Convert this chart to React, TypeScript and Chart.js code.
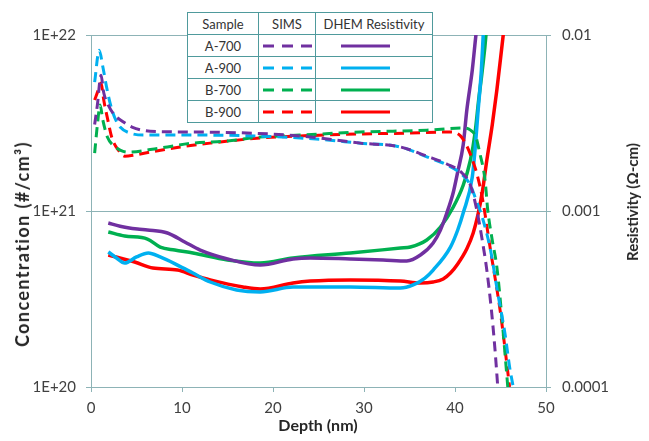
import React, { useEffect, useRef } from "react";
import { Chart, registerables } from "chart.js";

Chart.register(...registerables);

// ---------- data ----------
const samples = ["A-700", "A-900", "B-700", "B-900"];
const colors = ["#7030A0", "#00B0F0", "#00B050", "#FF0000"];

const concTicks = [1e20, 1e21, 1e22];
const concTickLabels = ["1E+20", "1E+21", "1E+22"];
const resTicks = [1e-4, 1e-3, 1e-2];
const resTickLabels = ["0.0001", "0.001", "0.01"];

// SIMS concentration (#/cm3) vs depth (nm)
const simsA700Depth = [0.4, 0.7, 1.1, 1.4, 1.9, 2.6, 3.4, 4.5, 6.5, 12, 23, 29.6, 34, 36.9, 39.1, 40.8, 41.7, 42.4, 43, 43.5, 44, 44.4, 44.7];
const simsA700 = [3.1e21, 4.0e21, 5.9e21, 4.7e21, 4.0e21, 3.5e21, 3.25e21, 3.0e21, 2.84e21, 2.81e21, 2.67e21, 2.43e21, 2.31e21, 2.05e21, 1.85e21, 1.64e21, 1.4e21, 1.01e21, 6.8e20, 4.6e20, 2.74e20, 1.62e20, 1.0e20];

const simsA900Depth = [0.4, 0.9, 1.3, 1.7, 2.1, 2.6, 3.2, 4.3, 5.9, 12, 23, 29.6, 34, 36.9, 39.1, 40.6, 41.7, 42.2, 43, 43.9, 44.7, 45.5, 46, 46.4];
const simsA900 = [5.4e21, 8.2e21, 6.6e21, 5.1e21, 4.1e21, 3.4e21, 3.0e21, 2.77e21, 2.7e21, 2.7e21, 2.6e21, 2.43e21, 2.31e21, 2.03e21, 1.83e21, 1.64e21, 1.4e21, 1.2e21, 9.2e20, 6.0e20, 3.4e20, 2.0e20, 1.3e20, 1.0e20];

const simsB700Depth = [0.4, 0.7, 1.0, 1.3, 1.8, 2.4, 3.2, 4.0, 7.6, 11.2, 15, 18.6, 23, 29.6, 36.9, 40.8, 41.7, 42.3, 42.7, 43.3, 43.6, 44.1, 44.6, 45.3, 45.8];
const simsB700 = [2.13e21, 3.08e21, 4.0e21, 3.29e21, 2.63e21, 2.37e21, 2.22e21, 2.16e21, 2.28e21, 2.43e21, 2.5e21, 2.63e21, 2.7e21, 2.81e21, 2.88e21, 2.96e21, 2.88e21, 2.63e21, 2.16e21, 1.5e21, 1.01e21, 6.8e20, 4.8e20, 2.03e20, 1.0e20];

const simsB900Depth = [0.4, 0.8, 1.1, 1.4, 1.8, 2.3, 3.0, 3.7, 4.8, 6.5, 9.8, 13.1, 18.6, 23, 29.6, 35, 39.5, 40.6, 41.3, 42, 42.5, 43, 43.9, 45, 46];
const simsB900 = [4.27e21, 4.87e21, 5.34e21, 4.27e21, 3.38e21, 2.6e21, 2.22e21, 2.05e21, 2.08e21, 2.16e21, 2.31e21, 2.43e21, 2.6e21, 2.67e21, 2.74e21, 2.77e21, 2.81e21, 2.67e21, 2.34e21, 1.9e21, 1.56e21, 1.19e21, 6.0e20, 2.63e20, 1.0e20];

// DHEM resistivity (ohm-cm) vs depth (nm)
const resA700Depth = [1.9, 3.2, 5.1, 6.2, 8.4, 10.3, 12, 15, 18.6, 22.2, 24.1, 28.5, 32.1, 34.7, 36.2, 37.6, 38.4, 39.1, 39.8, 40.3, 40.9, 41.3, 41.9, 42.3, 42.5];
const resA700 = [8.55e-4, 8.2e-4, 7.9e-4, 7.8e-4, 7.5e-4, 6.67e-4, 6.0e-4, 5.34e-4, 4.93e-4, 5.34e-4, 5.41e-4, 5.34e-4, 5.27e-4, 5.2e-4, 5.62e-4, 6.58e-4, 7.8e-4, 9.74e-4, 1.27e-3, 1.67e-3, 2.37e-3, 3.75e-3, 6.33e-3, 1.0e-2, 1.22e-2];

const resA900Depth = [1.9, 2.8, 3.7, 5.0, 6.3, 7.6, 9.5, 11.2, 13.1, 16, 18.6, 22.2, 28.5, 34, 35.4, 36.7, 37.6, 39.5, 40.3, 40.9, 41.9, 42.2, 42.5, 42.9, 43.1, 43.2];
const resA900 = [5.85e-4, 5.41e-4, 5.06e-4, 5.48e-4, 5.77e-4, 5.48e-4, 4.93e-4, 4.44e-4, 3.95e-4, 3.56e-4, 3.47e-4, 3.7e-4, 3.7e-4, 3.65e-4, 3.8e-4, 4.16e-4, 4.62e-4, 6.24e-4, 7.8e-4, 9.74e-4, 1.56e-3, 2.22e-3, 3.51e-3, 6.33e-3, 1.0e-2, 1.22e-2];

const resB700Depth = [1.9, 3.7, 6.2, 7.6, 9.2, 11.2, 15, 18.6, 22.2, 28.5, 34, 35.1, 36.9, 38.4, 39.8, 40.9, 41.7, 42.2, 42.6, 43, 43.4, 43.5];
const resB700 = [7.6e-4, 7.21e-4, 6.93e-4, 6.24e-4, 6.0e-4, 5.77e-4, 5.27e-4, 5.06e-4, 5.41e-4, 5.77e-4, 6.16e-4, 6.24e-4, 6.84e-4, 8.11e-4, 1.05e-3, 1.4e-3, 1.95e-3, 2.77e-3, 4.27e-3, 6.33e-3, 1.0e-2, 1.22e-2];

const resB900Depth = [1.9, 4.8, 6.8, 9.5, 11.2, 13.1, 16.7, 18.6, 22.2, 24.1, 28.5, 34, 36.2, 37.6, 38.7, 39.5, 40.3, 41.3, 42.0, 42.5, 43, 43.5, 44.1, 44.6, 45.3, 45.5];
const resB900 = [5.62e-4, 5.13e-4, 4.74e-4, 4.62e-4, 4.33e-4, 4.06e-4, 3.7e-4, 3.6e-4, 3.9e-4, 4.0e-4, 4.06e-4, 4.0e-4, 3.9e-4, 3.95e-4, 4.11e-4, 4.44e-4, 5.0e-4, 6.1e-4, 7.5e-4, 9.4e-4, 1.28e-3, 1.95e-3, 3.1e-3, 4.87e-3, 1.0e-2, 1.22e-2];

const simsDepths = [simsA700Depth, simsA900Depth, simsB700Depth, simsB900Depth];
const simsValues = [simsA700, simsA900, simsB700, simsB900];
const resDepths = [resA700Depth, resA900Depth, resB700Depth, resB900Depth];
const resValues = [resA700, resA900, resB700, resB900];

// ---------- styles ----------
const AXIS = "#8DB3B6";
const TABLE_BORDER = "#4F9A9C";
const TEXT = "#404040";
const FONT = "Lato, 'Open Sans', sans-serif";

const toPoints = (xs: number[], ys: number[]) => xs.map((x, i) => ({ x, y: ys[i] }));

export default function App() {
  const ref = useRef<HTMLCanvasElement>(null);

  useEffect(() => {
    if (!ref.current) return;
    Chart.defaults.font.family = FONT;
    const datasets: any[] = [];
    samples.forEach((s, i) => {
      datasets.push({
        label: s + " SIMS",
        data: toPoints(simsDepths[i], simsValues[i]),
        yAxisID: "yL",
        borderColor: colors[i],
        borderWidth: 3,
        borderDash: [10, 6],
        pointRadius: 0,
        cubicInterpolationMode: "monotone",
        fill: false,
      });
    });
    samples.forEach((s, i) => {
      datasets.push({
        label: s + " DHEM Resistivity",
        data: toPoints(resDepths[i], resValues[i]),
        yAxisID: "yR",
        borderColor: colors[i],
        borderWidth: 3.5,
        pointRadius: 0,
        cubicInterpolationMode: "monotone",
        fill: false,
      });
    });

    const chart = new Chart(ref.current, {
      type: "line",
      data: { datasets },
      options: {
        responsive: false,
        animation: false,
        devicePixelRatio: 1,
        layout: { padding: { top: 35, left: 0, right: 0, bottom: 0 } },
        plugins: { legend: { display: false }, tooltip: { enabled: false } },
        scales: {
          x: {
            type: "linear",
            min: 0,
            max: 50,
            ticks: { stepSize: 10, color: TEXT, font: { size: 15, family: FONT }, padding: 7, maxRotation: 0 },
            grid: { drawOnChartArea: false, color: AXIS, tickLength: 5 },
            border: { color: AXIS, width: 1 },
            afterFit: (s: any) => { s.height = 54; },
          },
          yL: {
            type: "logarithmic",
            position: "left",
            min: 1e20,
            max: 1e22,
            afterBuildTicks: (s: any) => { s.ticks = concTicks.map((v) => ({ value: v })); },
            ticks: {
              color: TEXT,
              font: { size: 15, family: FONT },
              padding: 10,
              callback: (_v: any, i: number) => concTickLabels[i],
            },
            grid: { color: AXIS, tickLength: 5, lineWidth: 1 },
            border: { color: AXIS, width: 1 },
            afterFit: (s: any) => { s.width = 91; },
          },
          yR: {
            type: "logarithmic",
            position: "right",
            min: 1e-4,
            max: 1e-2,
            afterBuildTicks: (s: any) => { s.ticks = resTicks.map((v) => ({ value: v })); },
            ticks: {
              color: TEXT,
              font: { size: 15, family: FONT },
              padding: 11,
              callback: (_v: any, i: number) => resTickLabels[i],
            },
            grid: { drawOnChartArea: false, color: AXIS, tickLength: 5 },
            border: { color: AXIS, width: 1 },
            afterFit: (s: any) => { s.width = 103; },
          },
        },
      } as any,
    });
    return () => chart.destroy();
  }, []);

  const cell: React.CSSProperties = {
    border: `1.5px solid ${TABLE_BORDER}`,
    padding: 0,
    height: 21,
    textAlign: "center",
    verticalAlign: "middle",
  };

  return (
    <div style={{ position: "fixed", left: 0, top: 0, width: 649, height: 441, background: "#fff", overflow: "hidden" }}>
      <canvas ref={ref} width={649} height={441} style={{ width: 649, height: 441, display: "block" }} />
      {/* axis titles */}
      <div
        style={{
          position: "absolute", left: 22, top: 244, transform: "translate(-50%, -50%) rotate(-90deg)",
          whiteSpace: "nowrap", fontFamily: FONT, fontWeight: 700, fontSize: 18, letterSpacing: 1.4, color: "#262626",
        }}
      >
        Concentration (#/cm³)
      </div>
      <div
        style={{
          position: "absolute", left: 632, top: 202, transform: "translate(-50%, -50%) rotate(-90deg)",
          whiteSpace: "nowrap", fontFamily: FONT, fontWeight: 700, fontSize: 15, color: "#262626",
        }}
      >
        Resistivity (Ω-cm)
      </div>
      <div
        style={{
          position: "absolute", left: 318, top: 424, transform: "translate(-50%, -50%)",
          whiteSpace: "nowrap", fontFamily: FONT, fontWeight: 700, fontSize: 16, color: "#262626",
        }}
      >
        Depth (nm)
      </div>
      {/* legend table */}
      <table
        style={{
          position: "absolute", left: 187, top: 12, width: 245, borderCollapse: "collapse", tableLayout: "fixed",
          background: "#fff", fontFamily: FONT, fontSize: 13, color: "#333",
        }}
      >
        <colgroup>
          <col style={{ width: 71 }} />
          <col style={{ width: 57 }} />
          <col style={{ width: 117 }} />
        </colgroup>
        <tbody>
          <tr>
            <td style={cell}>Sample</td>
            <td style={cell}>SIMS</td>
            <td style={cell}>DHEM Resistivity</td>
          </tr>
          {samples.map((s, i) => (
            <tr key={s}>
              <td style={cell}>{s}</td>
              <td style={cell}>
                <svg width={57} height={8} style={{ display: "block" }}>
                  <line x1={4} x2={54} y1={4} y2={4} stroke={colors[i]} strokeWidth={3} strokeDasharray="11 8" />
                </svg>
              </td>
              <td style={cell}>
                <svg width={117} height={8} style={{ display: "block" }}>
                  <line x1={25} x2={74} y1={4} y2={4} stroke={colors[i]} strokeWidth={3} />
                </svg>
              </td>
            </tr>
          ))}
        </tbody>
      </table>
    </div>
  );
}
